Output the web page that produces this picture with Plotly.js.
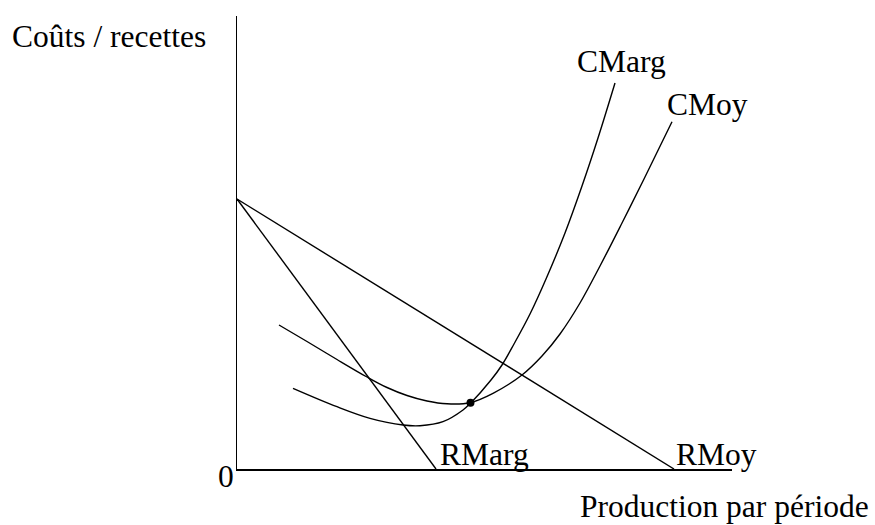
<!DOCTYPE html>
<html>
<head>
<meta charset="utf-8">
<script src="https://cdn.plot.ly/plotly-3.0.1.min.js"></script>
<style>html,body{margin:0;padding:0;background:#fff;}#chart{width:875px;height:525px;}</style>
</head>
<body>
<div id="chart"></div>
<script>
// Demand / revenue lines
const rmoyQ = [0, 43.7];
const rmoyP = [27, 0];
const rmargQ = [0, 19.9];
const rmargP = [27, 0];
// Average cost curve (CMoy)
const cmoyQ = [4.2, 7.0, 10.0, 13.0, 15.0, 17.0, 19.0, 21.0, 23.3, 25.6, 28.5, 30.5, 32.3, 34.3, 36.3, 38.5, 40.7, 43.5];
const cmoyP = [14.4, 12.75, 10.95, 9.2, 8.15, 7.35, 6.8, 6.52, 6.63, 7.57, 9.4, 11.3, 13.5, 16.6, 20.3, 24.6, 29.0, 34.73];
// Marginal cost curve (CMarg)
const cmargQ = [5.6, 10.0, 13.3, 16.6, 18.3, 20.6, 22.6, 23.4, 25.4, 26.5, 27.7, 29.3, 30.9, 32.8, 34.5, 36.1, 37.8];
const cmargP = [8.07, 6.23, 5.07, 4.4, 4.33, 4.73, 5.9, 6.63, 8.9, 10.4, 12.5, 15.5, 19.0, 23.6, 28.3, 33.1, 38.6];
// Point where CMarg crosses CMoy
const ptQ = [23.35];
const ptP = [6.63];

const labels = {
  yTitle: "Coûts / recettes",
  xTitle: "Production par période",
  origin: "0",
  rmarg: "RMarg",
  rmoy: "RMoy",
  cmarg: "CMarg",
  cmoy: "CMoy"
};

const lineStyle = {color: "#000", width: 1.4};
const curveStyle = {color: "#000", width: 1.4, shape: "spline", smoothing: 1};
const traces = [
  {x: rmoyQ, y: rmoyP, mode: "lines", line: lineStyle, hoverinfo: "skip"},
  {x: rmargQ, y: rmargP, mode: "lines", line: lineStyle, hoverinfo: "skip"},
  {x: cmoyQ, y: cmoyP, mode: "lines", line: curveStyle, hoverinfo: "skip"},
  {x: cmargQ, y: cmargP, mode: "lines", line: curveStyle, hoverinfo: "skip"},
  {x: ptQ, y: ptP, mode: "markers", marker: {color: "#000", size: 8}, hoverinfo: "skip"}
];

const font = {family: "Liberation Serif, Times New Roman, serif", size: 31.5, color: "#000"};
function ann(text, x, y, xanchor, ref) {
  return {text: text, x: x, y: y, xref: ref ? "paper" : "x", yref: ref ? "paper" : "y",
          xanchor: xanchor, yanchor: "middle", showarrow: false, font: font};
}

const layout = {
  width: 875, height: 525,
  margin: {l: 237, r: 143, t: 16, b: 56, pad: 0},
  paper_bgcolor: "#fff", plot_bgcolor: "#fff",
  showlegend: false,
  xaxis: {range: [0, 49.5], showline: true, linecolor: "#000", linewidth: 1.5, showgrid: false, zeroline: false, showticklabels: false, ticks: "", fixedrange: true},
  yaxis: {range: [0, 45.3], showline: true, linecolor: "#000", linewidth: 1.5, showgrid: false, zeroline: false, showticklabels: false, ticks: "", fixedrange: true},
  annotations: [
    ann(labels.yTitle, -0.459, 0.9547, "left", true),
    ann(labels.origin, -0.0232, -0.0159, "center", true),
    ann(labels.xTitle, 0.688, -0.0821, "left", true),
    ann(labels.rmarg, 20.07, 1.45, "left"),
    ann(labels.rmoy, 43.67, 1.45, "left"),
    ann(labels.cmarg, 33.83, 40.78, "left"),
    ann(labels.cmoy, 42.83, 36.45, "left")
  ]
};

Plotly.newPlot("chart", traces, layout, {staticPlot: true, displayModeBar: false});
</script>
</body>
</html>
